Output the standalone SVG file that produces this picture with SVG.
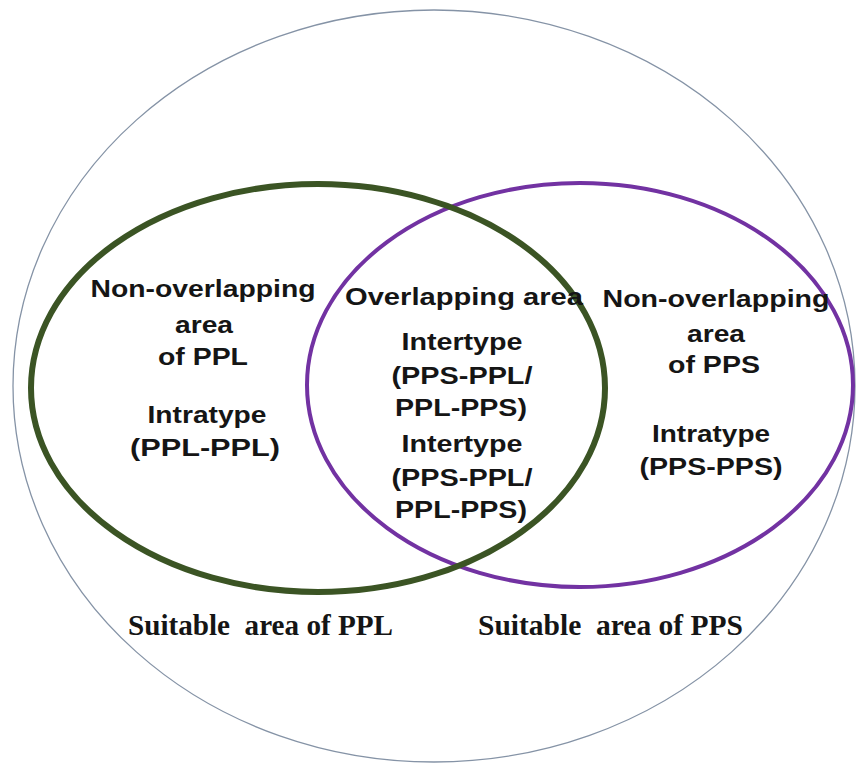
<svg xmlns="http://www.w3.org/2000/svg" width="858" height="767" viewBox="0 0 858 767">
  <style>
    .bg { fill: #ffffff; }
    .outer { fill: none; stroke: #8593a6; stroke-width: 1.3; }
    .ppl { fill: none; stroke: #3b5424; stroke-width: 6; }
    .pps { fill: none; stroke: #7232a2; stroke-width: 4; }
    .lbl { font-family: "Liberation Sans", Arial, sans-serif; font-weight: bold; font-size: 23px; fill: #151515; text-anchor: middle; }
    .cap { font-family: "Liberation Serif", "Times New Roman", serif; font-weight: bold; font-size: 30px; fill: #151515; }
  </style>
  <rect class="bg" x="0" y="0" width="858" height="767"/>

  <!-- outer boundary -->
  <g id="outer-area">
    <ellipse class="outer" cx="434" cy="386" rx="421" ry="376"/>
  </g>

  <!-- suitable-area sets -->
  <g id="pps-set">
    <ellipse class="pps" cx="580" cy="385" rx="273" ry="202"/>
  </g>
  <g id="ppl-set">
    <ellipse class="ppl" cx="318" cy="388" rx="287" ry="204"/>
  </g>

  <!-- region labels -->
  <g id="ppl-only">
    <text class="lbl" x="203" y="297" textLength="225" lengthAdjust="spacingAndGlyphs">Non-overlapping</text>
    <text class="lbl" x="204" y="333" textLength="58" lengthAdjust="spacingAndGlyphs">area</text>
    <text class="lbl" x="203" y="365" textLength="90" lengthAdjust="spacingAndGlyphs">of PPL</text>
    <text class="lbl" x="207" y="423" textLength="119" lengthAdjust="spacingAndGlyphs">Intratype</text>
    <text class="lbl" x="205" y="456" textLength="150" lengthAdjust="spacingAndGlyphs">(PPL-PPL)</text>
  </g>

  <g id="overlap">
    <text class="lbl" x="464" y="305" textLength="238" lengthAdjust="spacingAndGlyphs">Overlapping area</text>
    <text class="lbl" x="462" y="350" textLength="121" lengthAdjust="spacingAndGlyphs">Intertype</text>
    <text class="lbl" x="462" y="384" textLength="141" lengthAdjust="spacingAndGlyphs">(PPS-PPL/</text>
    <text class="lbl" x="461" y="416" textLength="132" lengthAdjust="spacingAndGlyphs">PPL-PPS)</text>
    <text class="lbl" x="462" y="452" textLength="121" lengthAdjust="spacingAndGlyphs">Intertype</text>
    <text class="lbl" x="462" y="486" textLength="141" lengthAdjust="spacingAndGlyphs">(PPS-PPL/</text>
    <text class="lbl" x="461" y="518" textLength="132" lengthAdjust="spacingAndGlyphs">PPL-PPS)</text>
  </g>

  <g id="pps-only">
    <text class="lbl" x="716" y="307" textLength="227" lengthAdjust="spacingAndGlyphs">Non-overlapping</text>
    <text class="lbl" x="716" y="342" textLength="58" lengthAdjust="spacingAndGlyphs">area</text>
    <text class="lbl" x="714" y="373" textLength="92" lengthAdjust="spacingAndGlyphs">of PPS</text>
    <text class="lbl" x="711" y="442" textLength="118" lengthAdjust="spacingAndGlyphs">Intratype</text>
    <text class="lbl" x="711" y="475" textLength="143" lengthAdjust="spacingAndGlyphs">(PPS-PPS)</text>
  </g>

  <!-- set captions -->
  <g id="captions">
    <text class="cap" x="128" y="635" textLength="265" lengthAdjust="spacingAndGlyphs" xml:space="preserve">Suitable  area of PPL</text>
    <text class="cap" x="478" y="635" textLength="265" lengthAdjust="spacingAndGlyphs" xml:space="preserve">Suitable  area of PPS</text>
  </g>
</svg>
